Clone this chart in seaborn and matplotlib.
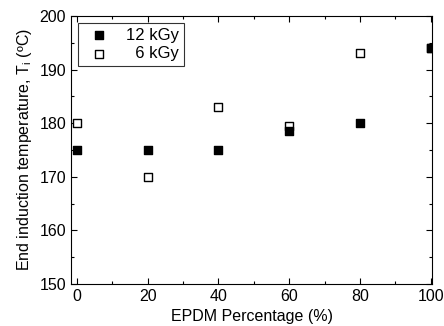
import matplotlib
matplotlib.use("Agg")
import matplotlib.pyplot as plt
import seaborn as sns
import pandas as pd
from matplotlib.ticker import MultipleLocator

# data
epdm = [0, 20, 40, 60, 80, 100]
t_12kgy = [175, 175, 175, 178.5, 180, 194]
t_6kgy = [180, 170, 183, 179.5, 193, 194]

sns.set_style("ticks", {"text.color": "black", "axes.labelcolor": "black",
                        "xtick.color": "black", "ytick.color": "black",
                        "axes.edgecolor": "black"})
plt.rcParams['font.family'] = ['Liberation Sans', 'DejaVu Sans']

df6 = pd.DataFrame({"epdm": epdm, "temp": t_6kgy})
df12 = pd.DataFrame({"epdm": epdm, "temp": t_12kgy})

fig = plt.figure(figsize=(4.44, 3.26), dpi=100)
ax = fig.add_axes([0.16, 0.129, 0.813, 0.822])

sns.scatterplot(data=df6, x="epdm", y="temp", marker="s", s=40,
                facecolor="white", edgecolor="black", linewidth=1.0,
                label="  6 kGy", ax=ax, zorder=3)
sns.scatterplot(data=df12, x="epdm", y="temp", marker="s", s=40,
                color="black", edgecolor="black", linewidth=1.0,
                label="12 kGy", ax=ax, zorder=4)

ax.set_xlim(-1.7, 100.4)
ax.set_ylim(150, 200)
ax.xaxis.set_major_locator(MultipleLocator(20))
ax.xaxis.set_minor_locator(MultipleLocator(10))
ax.yaxis.set_major_locator(MultipleLocator(10))
ax.yaxis.set_minor_locator(MultipleLocator(5))
ax.tick_params(which="both", direction="in", top=True, right=True,
               labelsize=11.5, width=0.8)
ax.tick_params(which="major", length=4)
ax.tick_params(which="minor", length=2)
for sp in ax.spines.values():
    sp.set_linewidth(0.8)

ax.set_xlabel("EPDM Percentage (%)", fontsize=11.5)
ax.set_ylabel("End induction temperature, T$_\\mathregular{i}$ (ºC)", fontsize=11.5)

handles, labels = ax.get_legend_handles_labels()
leg = ax.legend(handles[::-1], labels[::-1], loc="upper left", fontsize=12,
                frameon=True, fancybox=False, edgecolor="black",
                borderaxespad=0.4, handletextpad=0.6, borderpad=0.3,
                labelspacing=0.2, markerscale=1.0)
leg.get_frame().set_linewidth(0.8)

fig.savefig("out.png", dpi=100)
